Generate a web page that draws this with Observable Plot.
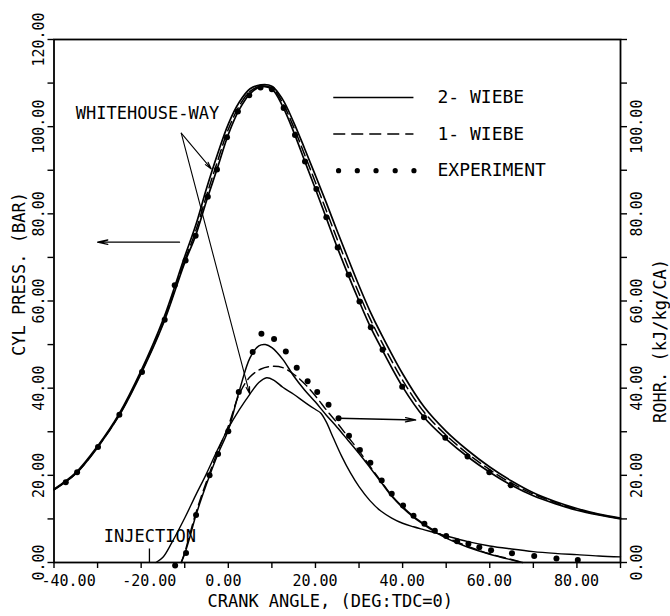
<!DOCTYPE html>
<html>
<head>
<meta charset="utf-8">
<script src="https://cdn.jsdelivr.net/npm/d3@7"></script>
<script src="https://cdn.jsdelivr.net/npm/@observablehq/plot@0.6"></script>
<style>
  html, body { margin: 0; padding: 0; background: #fff; }
</style>
</head>
<body>
<div id="chart"></div>
<script>
// ---------- data ----------
// Cylinder pressure (bar) vs crank angle (deg)
const pressX  = [-40, -35, -30, -25, -20, -15, -10, -7.5, -5, -2.5, 0, 2.5, 5, 7.5, 10, 12.5, 15, 17.5, 20, 22.5, 25, 27.5, 30, 32.5, 35, 40, 45, 50, 55, 60, 65, 70, 75, 80, 85, 90];
const press2W = [16.7, 20.4, 26.4, 33.8, 43.4, 54.6, 68.8, 75.0, 83.0, 90.5, 98.2, 103.9, 107.6, 109.2, 108.6, 104.6, 98.8, 92.2, 85.7, 79.0, 72.3, 66.0, 60.0, 54.3, 49.4, 40.3, 33.2, 28.3, 24.2, 20.7, 17.7, 15.3, 13.5, 12.0, 10.9, 10.0];
const press1W = [16.7, 20.4, 26.5, 33.9, 43.6, 54.9, 69.3, 76.0, 84.2, 92.0, 99.4, 104.7, 108.1, 109.3, 108.9, 105.4, 99.9, 93.6, 87.2, 80.7, 74.1, 67.8, 61.7, 56.0, 51.0, 41.8, 34.4, 29.2, 24.9, 21.3, 18.2, 15.7, 13.8, 12.2, 11.0, 10.1];
const pressWW = [16.8, 20.6, 26.7, 34.2, 44.0, 55.6, 70.2, 77.3, 85.8, 93.6, 100.6, 105.6, 108.7, 109.6, 109.3, 106.2, 101.0, 95.0, 88.8, 82.5, 76.0, 69.7, 63.5, 57.7, 52.6, 43.3, 35.6, 30.1, 25.7, 21.9, 18.7, 16.0, 14.0, 12.4, 11.1, 10.2];
const expPX   = [-37.3, -34.7, -29.9, -25.0, -19.8, -14.6, -12.3, -9.8, -7.5, -4.7, -2.6, -0.3, 2.2, 4.8, 7.4, 10.0, 12.7, 15.3, 17.6, 20.2, 22.5, 25.1, 27.6, 30.1, 32.7, 35.4, 39.9, 44.9, 49.8, 54.9, 59.9, 64.8];
const expP    = [18.4, 20.7, 26.5, 33.9, 43.7, 55.7, 63.6, 69.3, 75.0, 83.9, 90.2, 97.6, 103.5, 107.2, 109.0, 108.6, 104.3, 98.1, 92.0, 85.7, 79.2, 72.3, 66.0, 59.9, 54.0, 48.8, 40.3, 33.3, 28.6, 24.3, 20.7, 17.7];

// Rate of heat release (kJ/kg/CA)
const rohr2WX = [-10.8, -10, -9, -7.5, -5, -2.5, 0, 2.5, 5, 7, 8.5, 10, 12.5, 15, 17.5, 20, 22.5, 25, 27.5, 30, 32.5, 35, 37.5, 40, 42.5, 45, 47.5, 50, 55, 60, 65, 67.5];
const rohr2W  = [0, 2.0, 5.2, 10.6, 18.0, 24.6, 30.4, 39.3, 47.0, 49.7, 50.0, 49.3, 46.6, 42.8, 39.6, 36.8, 33.8, 31.0, 28.0, 25.0, 21.8, 18.5, 15.2, 12.6, 10.4, 8.6, 7.0, 5.6, 3.5, 1.9, 0.6, 0];
const rohr1WX = [-10.8, -10, -7.5, -5, -2.5, 0, 2.5, 5, 7.5, 10, 12.5, 15, 17.5, 20, 22.5, 25, 27.5, 30, 32.5, 35, 37.5, 40, 42.5, 45, 47.5, 50, 55, 60, 65, 67.5];
const rohr1W  = [0, 2.3, 11.2, 18.6, 25.3, 31.3, 38.6, 42.6, 44.4, 45.0, 44.7, 43.2, 41.0, 38.2, 35.0, 32.0, 28.8, 25.6, 22.1, 18.7, 15.4, 12.8, 10.6, 8.8, 7.2, 5.8, 3.7, 2.0, 0.7, 0];
const rohrWWX = [-16.6, -15, -13, -10, -7.5, -5, -2.5, 0, 2.5, 5, 7, 8.8, 10.5, 12.5, 15, 17.5, 20, 21.2, 22.5, 24, 26, 28, 30, 32.5, 35, 37.5, 40, 42.5, 45, 47.5, 50, 55, 60, 65, 70, 75, 80, 85, 90];
const rohrWW  = [0, 1.2, 4.5, 10.2, 15.4, 20.4, 25.8, 30.8, 35.0, 38.7, 41.3, 42.4, 41.8, 40.2, 38.6, 36.8, 35.1, 34.3, 32.2, 28.8, 24.4, 20.6, 17.4, 14.2, 11.8, 10.2, 9.0, 8.2, 7.5, 6.8, 6.1, 4.8, 3.8, 3.1, 2.5, 2.1, 1.8, 1.5, 1.3];
const expRX   = [-12.2, -9.7, -7.4, -4.3, -2.35, 0, 2.4, 5.6, 7.6, 10.5, 13.2, 15.7, 18.2, 20.4, 23.0, 25.3, 27.7, 30.2, 32.6, 35.2, 37.5, 40.1, 42.5, 45.0, 47.4, 50.0, 52.5, 55.1, 57.6, 60.3, 65.1, 70.2, 75.3, 80.2];
const expR    = [-0.7, 2.2, 10.9, 20.0, 24.9, 30.1, 39.1, 48.3, 52.5, 51.3, 48.4, 44.7, 41.6, 39.1, 36.2, 33.1, 29.1, 25.8, 22.9, 18.8, 15.8, 13.1, 10.7, 8.9, 7.3, 6.1, 4.9, 4.3, 3.5, 2.8, 2.1, 1.5, 0.9, 0.6];

// Ticks and labels
const xTicks       = [-40, -30, -20, -10, 0, 10, 20, 30, 40, 50, 60, 70, 80, 90];
const xLabels      = [-40, -20, 0, 20, 40, 60, 80];
const yTicks       = [0, 10, 20, 30, 40, 50, 60, 70, 80, 90, 100, 110, 120];
const yLabelsLeft  = [0, 20, 40, 60, 80, 100, 120];
const yLabelsRight = [0, 20, 40, 60, 80, 100];
const legendLabels = ["2- WIEBE", "1- WIEBE", "EXPERIMENT"];
const injectionAngle = -18.1;

// ---------- annotation layout (data units) ----------
const legend = { x1: 24.2, x2: 42.6, textX: 48.0, rows: [106.7, 98.3, 89.9], dotsX: [25.3, 29.6, 33.9, 38.3, 42.6] };
const wwArrows = [
  { x1: -10.8, y1: 98.5, x2: -3.9, y2: 90.3 },
  { x1: -10.8, y1: 98.5, x2: 4.9, y2: 38.7 }
];
const sideArrows = [
  { x1: -11.2, y1: 73.5, x2: -30.0, y2: 73.5 },
  { x1: 25.3, y1: 33.1, x2: 43.0, y2: 32.7 }
];

const fmt = d => d.toFixed(2);
const FONT = "DejaVu Sans Mono";

const chart = Plot.plot({
  width: 670,
  height: 616,
  marginLeft: 53.5,
  marginRight: 50,
  marginTop: 39,
  marginBottom: 54,
  style: { fontFamily: FONT, fontSize: "15px", background: "#fff", color: "#000" },
  x: { domain: [-40, 90], label: null },
  y: { domain: [0, 120], label: null },
  marks: [
    Plot.frame({ stroke: "#000", strokeWidth: 1.8 }),
    Plot.axisX({ ticks: xTicks, tickSize: 6, tickFormat: () => "", strokeWidth: 1.4, label: null }),
    Plot.axisY({ anchor: "left", ticks: yTicks, tickSize: 6, tickFormat: () => "", strokeWidth: 1.4, label: null }),
    Plot.axisY({ anchor: "right", ticks: yTicks, tickSize: 6, tickFormat: () => "", strokeWidth: 1.4, label: null }),

    // tick labels
    Plot.text([xLabels[0]], { x: d => d, text: fmt, frameAnchor: "bottom", dy: 19, dx: -12.5, textAnchor: "start", lineAnchor: "middle", fontSize: 15 }),
    Plot.text([xLabels[1]], { x: d => d, text: fmt, frameAnchor: "bottom", dy: 19, dx: -19, textAnchor: "start", lineAnchor: "middle", fontSize: 15 }),
    Plot.text(xLabels.slice(2), { x: d => d, text: fmt, frameAnchor: "bottom", dy: 19, dx: -23, textAnchor: "start", lineAnchor: "middle", fontSize: 15 }),
    Plot.text(yLabelsLeft, { y: d => d, text: fmt, frameAnchor: "left", dx: -15, rotate: -90, textAnchor: "middle", lineAnchor: "middle", fontSize: 15 }),
    Plot.text(yLabelsRight, { y: d => d, text: fmt, frameAnchor: "right", dx: 17, rotate: -90, textAnchor: "middle", lineAnchor: "middle", fontSize: 15 }),

    // axis titles
    Plot.text(["CYL PRESS. (BAR)"], { frameAnchor: "left", dx: -34, dy: -27, rotate: -90, textAnchor: "middle", lineAnchor: "middle", fontSize: 17 }),
    Plot.text(["ROHR. (kJ/kg/CA)"], { frameAnchor: "right", dx: 40, dy: 40, rotate: -90, textAnchor: "middle", lineAnchor: "middle", fontSize: 17 }),
    Plot.text(["CRANK ANGLE, (DEG:TDC=0)"], { frameAnchor: "bottom", dx: -7, dy: 39, textAnchor: "middle", lineAnchor: "middle", fontSize: 17 }),

    // pressure curves
    Plot.line(pressWW, { x: pressX, y: pressWW, curve: "catmull-rom", stroke: "#000", strokeWidth: 1.7 }),
    Plot.line(press1W, { x: pressX, y: press1W, curve: "catmull-rom", stroke: "#000", strokeWidth: 1.5, strokeDasharray: "10,5" }),
    Plot.line(press2W, { x: pressX, y: press2W, curve: "catmull-rom", stroke: "#000", strokeWidth: 1.7 }),
    Plot.dot(expP, { x: expPX, y: expP, r: 3, fill: "#000", stroke: "none" }),

    // ROHR curves
    Plot.line(rohrWW, { x: rohrWWX, y: rohrWW, curve: "catmull-rom", stroke: "#000", strokeWidth: 1.4 }),
    Plot.line(rohr1W, { x: rohr1WX, y: rohr1W, curve: "catmull-rom", stroke: "#000", strokeWidth: 1.4, strokeDasharray: "10,5" }),
    Plot.line(rohr2W, { x: rohr2WX, y: rohr2W, curve: "catmull-rom", stroke: "#000", strokeWidth: 1.5 }),
    Plot.dot(expR, { x: expRX, y: expR, r: 3, fill: "#000", stroke: "none" }),

    // injection marker
    Plot.ruleX([injectionAngle], { y1: 0, y2: 3.1, stroke: "#000", strokeWidth: 1.3 }),
    Plot.text(["INJECTION"], { x: injectionAngle + 0.1, y: 6.0, fontSize: 17 }),

    // Whitehouse-Way annotation
    Plot.text(["WHITEHOUSE-WAY"], { x: -18.55, y: 102.9, fontSize: 17 }),
    Plot.arrow(wwArrows, { x1: "x1", y1: "y1", x2: "x2", y2: "y2", stroke: "#000", strokeWidth: 1.1, headLength: 10, headAngle: 28 }),
    Plot.arrow(sideArrows, { x1: "x1", y1: "y1", x2: "x2", y2: "y2", stroke: "#000", strokeWidth: 1.3, headLength: 12, headAngle: 24 }),

    // legend
    Plot.ruleY([legend.rows[0]], { x1: legend.x1, x2: legend.x2, stroke: "#000", strokeWidth: 1.5 }),
    Plot.ruleY([legend.rows[1]], { x1: legend.x1, x2: legend.x2, stroke: "#000", strokeWidth: 1.5, strokeDasharray: "12,6" }),
    Plot.dot(legend.dotsX, { x: d => d, y: legend.rows[2], r: 2.6, fill: "#000", stroke: "none" }),
    Plot.text(legendLabels, { x: legend.textX, y: (d, i) => legend.rows[i], text: d => d, textAnchor: "start", fontSize: 18 })
  ]
});

document.getElementById("chart").appendChild(chart);
</script>
</body>
</html>
